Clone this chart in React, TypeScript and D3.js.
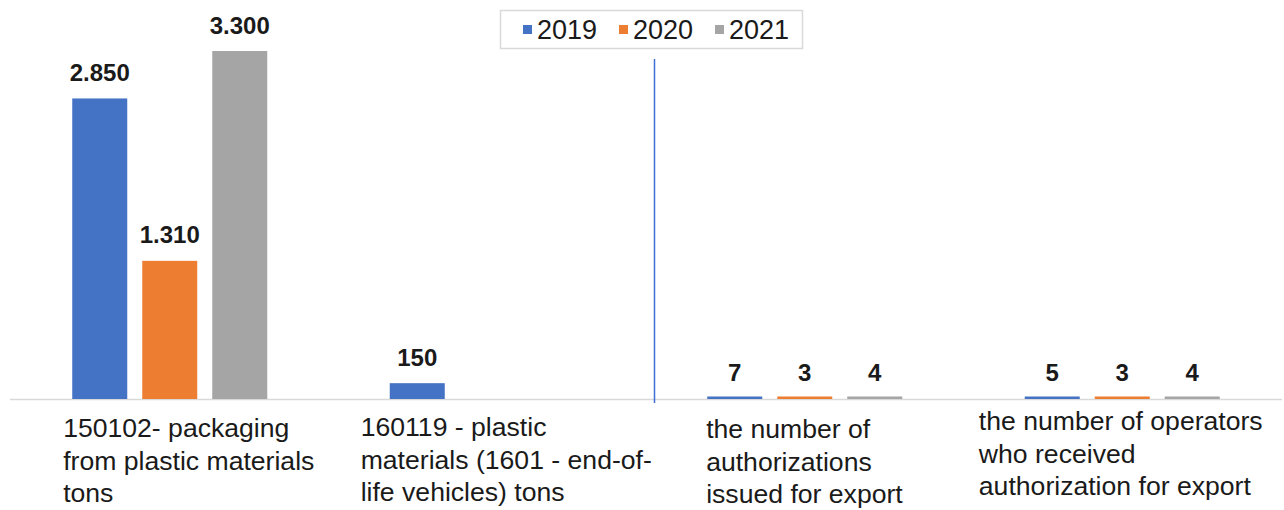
import React, { useEffect, useRef } from "react";
import * as d3 from "d3";

const categories: string[][] = [
  ["150102- packaging", "from plastic materials", "tons"],
  ["160119 - plastic", "materials (1601 - end-of-", "life vehicles) tons"],
  ["the number of", "authorizations", "issued for export"],
  ["the number of operators", "who received", "authorization for export"],
];
const seriesNames = ["2019", "2020", "2021"];
const values2019: (number | null)[] = [2850, 150, 7, 5];
const values2020: (number | null)[] = [1310, null, 3, 3];
const values2021: (number | null)[] = [3300, null, 4, 4];
const valueLabels2019 = ["2.850", "150", "7", "5"];
const valueLabels2020 = ["1.310", "", "3", "3"];
const valueLabels2021 = ["3.300", "", "4", "4"];

const colors = ["#4472C4", "#ED7D31", "#A5A5A5"];
const W = 1284;
const H = 510;
const FONT = "'Liberation Sans', Arial, sans-serif";

export default function App() {
  const ref = useRef<SVGSVGElement | null>(null);

  useEffect(() => {
    document.body.style.margin = "0";
    const svg = d3.select(ref.current);
    svg.selectAll("*").remove();

    const baseY = 399;
    const x = d3.scaleBand<number>().domain(d3.range(categories.length)).range([11, 1281]).padding(0);
    const inner = d3
      .scaleBand<number>()
      .domain([0, 1, 2])
      .range([(x.bandwidth() - 195) / 2, (x.bandwidth() + 195) / 2])
      .paddingInner(15 / 70)
      .paddingOuter(0);
    const y = d3.scaleLinear().domain([0, 3300]).range([baseY, 51]);

    const series = [values2019, values2020, values2021];
    const labels = [valueLabels2019, valueLabels2020, valueLabels2021];

    // axis line
    svg
      .append("line")
      .attr("x1", 10)
      .attr("x2", 1282)
      .attr("y1", baseY + 0.5)
      .attr("y2", baseY + 0.5)
      .attr("stroke", "#D9D9D9")
      .attr("stroke-width", 1.5);

    // bars
    series.forEach((vals, si) => {
      const g = svg.append("g");
      vals.forEach((v, ci) => {
        if (v === null) return;
        const bx = (x(ci) as number) + (inner(si) as number);
        const top = y(v);
        const h = Math.max(baseY - top, 2.5);
        g.append("rect")
          .attr("x", bx)
          .attr("y", baseY - h)
          .attr("width", inner.bandwidth())
          .attr("height", h)
          .attr("fill", colors[si]);
        g.append("text")
          .attr("x", bx + inner.bandwidth() / 2)
          .attr("y", top - 17.5)
          .attr("text-anchor", "middle")
          .attr("font-family", FONT)
          .attr("font-weight", "bold")
          .attr("font-size", 24)
          .attr("fill", "#1a1a1a")
          .text(labels[si][ci]);
      });
    });

    // separator line
    const sepX = (x(2) as number) + 8.5;
    svg
      .append("line")
      .attr("x1", sepX)
      .attr("x2", sepX)
      .attr("y1", 59)
      .attr("y2", 403)
      .attr("stroke", "#3E6FD6")
      .attr("stroke-width", 1.5);

    // category labels
    const labelDx = [19, 19, 0, -1];
    const labelY = [437, 436, 438, 430];
    categories.forEach((lines, ci) => {
      const g = svg.append("g");
      const t = g
        .append("text")
        .attr("font-family", FONT)
        .attr("font-size", 26.6)
        .attr("fill", "#1a1a1a");
      lines.forEach((ln, li) => {
        t.append("tspan").attr("x", 0).attr("y", li * 32.5).text(ln);
      });
      const bb = (t.node() as SVGTextElement).getBBox();
      const cx = (x(ci) as number) + x.bandwidth() / 2 + labelDx[ci];
      g.attr("transform", `translate(${cx - bb.width / 2},${labelY[ci]})`);
    });

    // legend
    const lg = svg.append("g");
    lg.append("rect")
      .attr("x", 500.5)
      .attr("y", 10.5)
      .attr("width", 302)
      .attr("height", 38)
      .attr("fill", "#fff")
      .attr("stroke", "#D9D9D9")
      .attr("stroke-width", 1.5);
    seriesNames.forEach((name, i) => {
      const ex = 523 + i * 96;
      lg.append("rect").attr("x", ex).attr("y", 25).attr("width", 9).attr("height", 9).attr("fill", colors[i]);
      lg.append("text")
        .attr("x", ex + 14)
        .attr("y", 38.5)
        .attr("font-family", FONT)
        .attr("font-size", 27)
        .attr("fill", "#1a1a1a")
        .text(name);
    });
  }, []);

  return (
    <svg
      ref={ref}
      width={W}
      height={H}
      style={{ position: "absolute", left: 0, top: 0, background: "#fff" }}
    />
  );
}
